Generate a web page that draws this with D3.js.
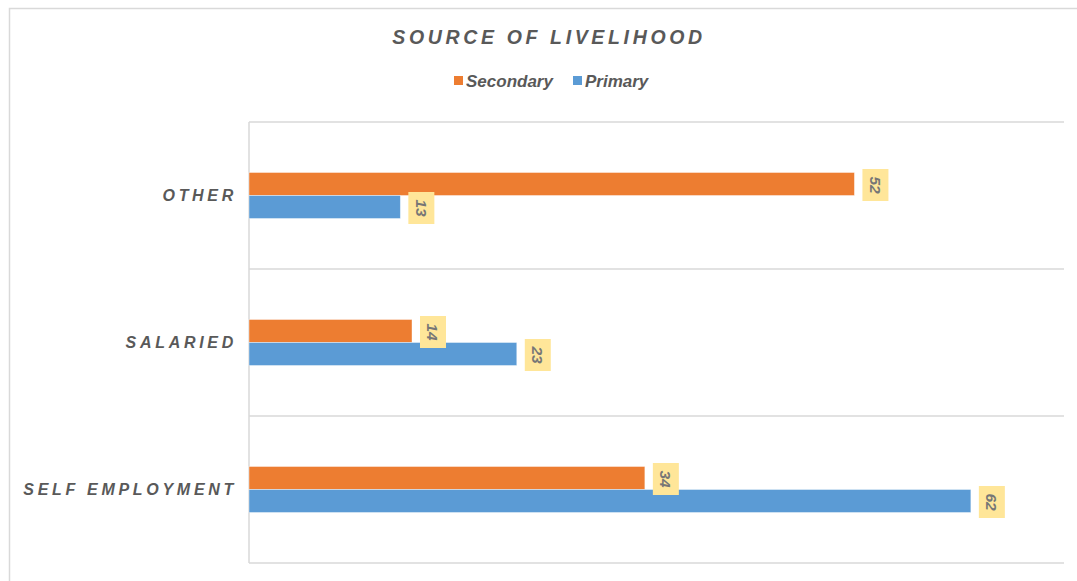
<!DOCTYPE html>
<html>
<head>
<meta charset="utf-8">
<style>
  body { margin: 0; background: #fff; }
  text { font-family: "Liberation Sans", Arial, sans-serif; }
</style>
</head>
<body>
<svg width="1077" height="581"></svg>
<script src="https://d3js.org/d3.v7.min.js"></script>
<script>
    var categories = ["OTHER", "SALARIED", "SELF EMPLOYMENT"];
    var seriesNames = ["Secondary", "Primary"];
    var secondary = [52, 14, 34];
    var primary = [13, 23, 62];
    var colors = ["#ED7D31", "#5B9BD5"];

    var svg = d3.select("svg"),
        width = +svg.attr("width"),
        height = +svg.attr("height");

    var margin = {left: 249, top: 122, right: 1064, bottom: 563};

    // outer chart border (extends past the window on right/bottom)
    svg.append("rect")
        .attr("x", 9.5).attr("y", 8.5)
        .attr("width", 1100).attr("height", 600)
        .attr("fill", "none")
        .attr("stroke", "#d9d9d9")
        .attr("stroke-width", 1.5);

    var x = d3.scaleLinear().domain([0, 70]).range([margin.left, margin.right]);
    var y = d3.scaleBand().domain(categories).range([margin.top, margin.bottom]).padding(0);
    var bw = y.bandwidth();
    var ySub = d3.scaleBand().domain(seriesNames)
        .range([bw / 2 - 23, bw / 2 + 23]).padding(0);

    // gridlines at band boundaries
    var bounds = categories.map(function(c) { return y(c); }).concat([margin.bottom]);
    svg.selectAll(".grid").data(bounds).enter().append("line")
        .attr("x1", margin.left).attr("x2", margin.right)
        .attr("y1", function(d) { return d; }).attr("y2", function(d) { return d; })
        .attr("stroke", "#d9d9d9").attr("stroke-width", 1.5);

    svg.append("line")
        .attr("x1", margin.left).attr("x2", margin.left)
        .attr("y1", margin.top).attr("y2", margin.bottom)
        .attr("stroke", "#d9d9d9").attr("stroke-width", 1.5);

    var rows = [];
    categories.forEach(function(c, i) {
        rows.push({cat: c, s: 0, v: secondary[i]});
        rows.push({cat: c, s: 1, v: primary[i]});
    });

    var g = svg.append("g");
    g.selectAll(".bar").data(rows).enter().append("rect")
        .attr("x", x(0))
        .attr("y", function(d) { return y(d.cat) + ySub(seriesNames[d.s]); })
        .attr("width", function(d) { return x(d.v) - x(0); })
        .attr("height", ySub.bandwidth())
        .attr("fill", function(d) { return colors[d.s]; })
        .attr("stroke", "#ffffff")
        .attr("stroke-opacity", 0.5)
        .attr("stroke-width", 0.8);

    // data labels: yellow boxes with rotated numbers
    var lab = g.selectAll(".lab").data(rows).enter().append("g")
        .attr("transform", function(d) {
            var cy = y(d.cat) + ySub(seriesNames[d.s]) + ySub.bandwidth() / 2;
            return "translate(" + (x(d.v) + 8) + "," + (cy + 1) + ")";
        });
    lab.append("rect")
        .attr("x", 0).attr("y", -16)
        .attr("width", 26).attr("height", 32)
        .attr("fill", "#FFE699");
    lab.append("text")
        .attr("transform", "translate(13,0) rotate(90)")
        .attr("text-anchor", "middle")
        .attr("dy", "0.36em")
        .attr("font-size", 15.5)
        .attr("font-weight", "bold")
        .attr("font-style", "italic")
        .attr("fill", "#767676")
        .text(function(d) { return d.v; });

    // category labels
    svg.selectAll(".cat").data(categories).enter().append("text")
        .attr("x", 237)
        .attr("y", function(d) { return y(d) + bw / 2; })
        .attr("dy", "0.35em")
        .attr("text-anchor", "end")
        .attr("font-size", 16)
        .attr("font-weight", "bold")
        .attr("font-style", "italic")
        .attr("letter-spacing", 3.7)
        .attr("fill", "#595959")
        .text(function(d) { return d; });

    // title
    svg.append("text")
        .attr("x", 549).attr("y", 44)
        .attr("text-anchor", "middle")
        .attr("font-size", 19.5)
        .attr("font-weight", "bold")
        .attr("font-style", "italic")
        .attr("letter-spacing", 3.65)
        .attr("fill", "#595959")
        .text("SOURCE OF LIVELIHOOD");

    // legend
    var legendX = [454, 573];
    var leg = svg.selectAll(".leg").data(seriesNames).enter().append("g")
        .attr("transform", function(d, i) { return "translate(" + legendX[i] + ",76)"; });
    leg.append("rect")
        .attr("x", 0).attr("y", 0)
        .attr("width", 9).attr("height", 9)
        .attr("fill", function(d, i) { return colors[i]; });
    leg.append("text")
        .attr("x", 12).attr("y", 4.5)
        .attr("dy", "0.36em")
        .attr("font-size", 17)
        .attr("font-weight", "bold")
        .attr("font-style", "italic")
        .attr("fill", "#595959")
        .text(function(d) { return d; });
</script>
</body>
</html>
